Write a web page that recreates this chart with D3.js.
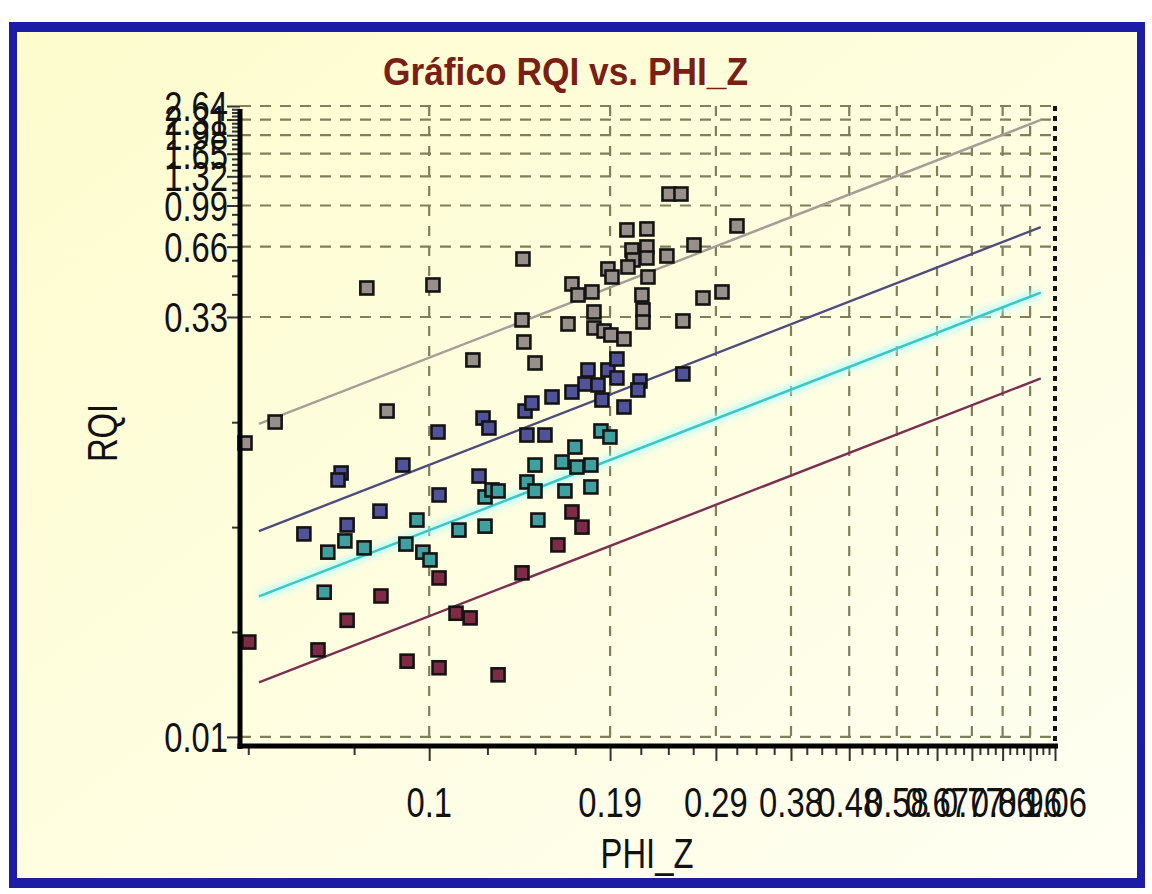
<!DOCTYPE html>
<html>
<head>
<meta charset="utf-8">
<script src="https://cdn.jsdelivr.net/npm/d3@7"></script>
<style>
  html, body { margin: 0; padding: 0; background: #ffffff; }
  svg { display: block; }
</style>
</head>
<body>
<svg id="chart" width="1152" height="894"></svg>
<script>
// ---- data: PHI_Z (x) and RQI (y) per rock-type group ----
const grayPhi = [0.0474, 0.0532, 0.0756, 0.0974, 0.0817, 0.1135, 0.1375, 0.1370, 0.1380, 0.1440,
                 0.1634, 0.1659, 0.1698, 0.1791, 0.1805, 0.1805, 0.1876, 0.1926, 0.2025, 0.1904,
                 0.1934, 0.2048, 0.2211, 0.2211, 0.2088, 0.2096, 0.2211, 0.2056, 0.2220, 0.2169,
                 0.2178, 0.2178, 0.2387, 0.2406, 0.2519, 0.2648, 0.3122, 0.2538, 0.2741, 0.2948];
const grayRqi = [0.0953, 0.1172, 0.4391, 0.4524, 0.1306, 0.2160, 0.5845, 0.3204, 0.2579, 0.2097,
                 0.3080, 0.4569, 0.4099, 0.4223, 0.3467, 0.2961, 0.2874, 0.2764, 0.2657, 0.5297,
                 0.4895, 0.7781, 0.7859, 0.6580, 0.6387, 0.5788, 0.5903, 0.5402, 0.4895, 0.4099,
                 0.3536, 0.3141, 0.6020, 1.109, 1.109, 0.6710, 0.8095, 0.3173, 0.3979, 0.4223];

const navyPhi = [0.0594, 0.0701, 0.0685, 0.0677, 0.0795, 0.0868, 0.0993, 0.0997, 0.1162, 0.1180,
                 0.1207, 0.1386, 0.1423, 0.1396, 0.1496, 0.1537, 0.1659, 0.1744, 0.1764, 0.1833,
                 0.1861, 0.1904, 0.1971, 0.1971, 0.2025, 0.2153, 0.2136, 0.2538];
const navyRqi = [0.0389, 0.0425, 0.0709, 0.0662, 0.0487, 0.0767, 0.1062, 0.0571, 0.0688, 0.1219,
                 0.1105, 0.1306, 0.1413, 0.1031, 0.1031, 0.1500, 0.1575, 0.1705, 0.1957, 0.1688,
                 0.1456, 0.1957, 0.2181, 0.1809, 0.1359, 0.1756, 0.1607, 0.1882];

const tealPhi = [0.0642, 0.0651, 0.0695, 0.0748, 0.0878, 0.0916, 0.0937, 0.0963, 0.1076, 0.1189,
                 0.1189, 0.1221, 0.1250, 0.1396, 0.1440, 0.1440, 0.1456, 0.1597, 0.1615, 0.1678,
                 0.1691, 0.1784, 0.1784, 0.1854, 0.1919];
const tealRqi = [0.0219, 0.0325, 0.0363, 0.0339, 0.0352, 0.0446, 0.0325, 0.0301, 0.0404, 0.0420,
                 0.0560, 0.0600, 0.0594, 0.0649, 0.0767, 0.0594, 0.0446, 0.0790, 0.0594, 0.0916,
                 0.0752, 0.0767, 0.0618, 0.1073, 0.1011];

const maroonPhi = [0.0481, 0.0627, 0.0701, 0.0798, 0.0882, 0.0997, 0.0997, 0.1064, 0.1123, 0.1250,
                   0.1370, 0.1572, 0.1659, 0.1724];
const maroonRqi = [0.0134, 0.0124, 0.0166, 0.0211, 0.0111, 0.0252, 0.0104, 0.0178, 0.0170, 0.0097,
                   0.0265, 0.0349, 0.0483, 0.0416];

// flow zone indicator lines: RQI = FZI * PHI_Z
const fziValues = [2.3, 0.8, 0.42, 0.18];
const fziPhiRange = [0.05, 1.0];

// axis ticks
const xTickValues = [0.096, 0.192, 0.288, 0.384, 0.48, 0.576, 0.672, 0.768, 0.864, 0.96, 1.056];
const xTickLabels = ["0.1", "0.19", "0.29", "0.38", "0.48", "0.58", "0.67", "0.77", "0.86", "0.96", "1.06"];
const xMinorTicks = [0.048, 0.072, 0.12, 0.144, 0.168, 0.216, 0.24, 0.264, 0.312, 0.336, 0.36,
                     0.408, 0.432, 0.456, 0.504, 0.528, 0.552, 0.6, 0.624, 0.648, 0.696, 0.72, 0.744,
                     0.792, 0.816, 0.84, 0.888, 0.912, 0.936, 0.984, 1.008, 1.032];
const yTickValues = [0.00526, 0.33, 0.66, 0.99, 1.32, 1.65, 1.98, 2.31, 2.64];
const yTickLabels = ["0.01", "0.33", "0.66", "0.99", "1.32", "1.65", "1.98", "2.31", "2.64"];
const yMinorTicks = [0.0148, 0.0416, 0.117, 0.4125, 0.495, 0.5775, 0.7425, 0.825, 0.9075,
                     1.0725, 1.155, 1.2375, 1.4025, 1.485, 1.5675, 1.7325, 1.815, 1.8975,
                     2.0625, 2.145, 2.2275, 2.3925, 2.475, 2.5575];

const xDomain = [0.0465, 1.056];
const yDomain = [0.00481, 2.64];

// ---- layout / style ----
const W = 1152, H = 894;
const plot = { left: 240, right: 1055, top: 106, bottom: 746 };
const groupStyles = [
  { fill: "#978f8a", line: "#a69e96" },
  { fill: "#50529a", line: "#4e4c7c" },
  { fill: "#40a0a0", line: "#3cc6c6" },
  { fill: "#7e2c46", line: "#7c2f50" }
];
const font = "'Liberation Sans', Arial, Helvetica, sans-serif";
const labelSize = 42, squeeze = 0.78;

const svg = d3.select("#chart");
const defs = svg.append("defs");

const bg = defs.append("linearGradient").attr("id", "bg")
  .attr("x1", 0).attr("y1", 0).attr("x2", 1).attr("y2", 1);
bg.append("stop").attr("offset", "0%").attr("stop-color", "#fdfccd");
bg.append("stop").attr("offset", "100%").attr("stop-color", "#fffff3");

defs.append("filter").attr("id", "glow")
  .attr("x", "-5%").attr("y", "-20%").attr("width", "110%").attr("height", "140%")
  .append("feGaussianBlur").attr("stdDeviation", 3);

// outer white page, blue frame and cream panel
svg.append("rect").attr("width", W).attr("height", H).attr("fill", "#ffffff");
svg.append("rect").attr("x", 9).attr("y", 22).attr("width", 1136).attr("height", 866).attr("fill", "#1c1ca6");
svg.append("rect").attr("x", 17).attr("y", 32).attr("width", 1120).attr("height", 846).attr("fill", "url(#bg)");

// scales
const x = d3.scaleLog().domain(xDomain).range([plot.left, plot.right]);
const y = d3.scaleLog().domain(yDomain).range([plot.bottom, plot.top]);

// grid lines
const grid = svg.append("g").attr("stroke", "#7f7f5c").attr("stroke-width", 2.2).attr("fill", "none");
grid.selectAll("line.h").data(yTickValues).join("line").attr("class", "h")
  .attr("x1", plot.left).attr("x2", plot.right)
  .attr("y1", d => y(d)).attr("y2", d => y(d))
  .attr("stroke-dasharray", "11 9");
grid.selectAll("line.v").data(xTickValues.slice(0, -1)).join("line").attr("class", "v")
  .attr("x1", d => x(d)).attr("x2", d => x(d))
  .attr("y1", plot.top).attr("y2", plot.bottom)
  .attr("stroke-dasharray", "10 10");
// right border on the last x tick
svg.append("line")
  .attr("x1", x(xTickValues[xTickValues.length - 1])).attr("x2", x(xTickValues[xTickValues.length - 1]))
  .attr("y1", plot.top).attr("y2", plot.bottom)
  .attr("stroke", "#111").attr("stroke-width", 4).attr("stroke-dasharray", "5 5");

// FZI lines
const fziG = svg.append("g").attr("fill", "none");
fziValues.forEach((f, i) => {
  const pts = fziPhiRange.map(p => [x(p), y(f * p)]);
  if (i === 2) {
    fziG.append("line")
      .attr("x1", pts[0][0]).attr("y1", pts[0][1]).attr("x2", pts[1][0]).attr("y2", pts[1][1])
      .attr("stroke", "#a8ffff").attr("stroke-width", 9).attr("opacity", 0.7).attr("filter", "url(#glow)");
  }
  fziG.append("line")
    .attr("x1", pts[0][0]).attr("y1", pts[0][1]).attr("x2", pts[1][0]).attr("y2", pts[1][1])
    .attr("stroke", groupStyles[i].line).attr("stroke-width", 2.4);
});

// points
const groups = [
  { phi: grayPhi, rqi: grayRqi },
  { phi: navyPhi, rqi: navyRqi },
  { phi: tealPhi, rqi: tealRqi },
  { phi: maroonPhi, rqi: maroonRqi }
];
const sq = 13;
groups.forEach((g, i) => {
  const data = g.phi.map((p, k) => ({ p, r: g.rqi[k] }));
  svg.append("g").selectAll("rect").data(data).join("rect")
    .attr("x", d => x(d.p) - sq / 2).attr("y", d => y(d.r) - sq / 2)
    .attr("width", sq).attr("height", sq)
    .attr("fill", groupStyles[i].fill)
    .attr("stroke", "#141414").attr("stroke-width", 2.6);
});

// axes: tick marks through d3 axes, thick black axis lines
function styleTicks(g) {
  g.select(".domain").remove();
  g.selectAll(".tick line").attr("stroke", "#333").attr("stroke-width", 2);
}
svg.append("g").attr("transform", `translate(${plot.left},0)`)
  .call(d3.axisLeft(y).tickValues(yTickValues).tickSize(13).tickFormat(""))
  .call(styleTicks);
svg.append("g").attr("transform", `translate(${plot.left},0)`)
  .call(d3.axisLeft(y).tickValues(yMinorTicks).tickSize(8).tickFormat(""))
  .call(styleTicks);
svg.append("g").attr("transform", `translate(0,${plot.bottom})`)
  .call(d3.axisBottom(x).tickValues(xTickValues).tickSize(15).tickFormat(""))
  .call(styleTicks);
svg.append("g").attr("transform", `translate(0,${plot.bottom})`)
  .call(d3.axisBottom(x).tickValues(xMinorTicks).tickSize(9).tickFormat(""))
  .call(styleTicks);

svg.append("line").attr("x1", plot.left).attr("x2", plot.left)
  .attr("y1", plot.top + 3).attr("y2", plot.bottom + 3)
  .attr("stroke", "#000").attr("stroke-width", 5);
svg.append("line").attr("x1", plot.left - 2.5).attr("x2", plot.right + 3)
  .attr("y1", plot.bottom).attr("y2", plot.bottom)
  .attr("stroke", "#000").attr("stroke-width", 5);

// tick labels
svg.append("g").selectAll("text").data(yTickValues).join("text")
  .attr("transform", d => `translate(${plot.left - 12},${y(d) + 15}) scale(${squeeze},1)`)
  .attr("text-anchor", "end")
  .attr("font-family", font).attr("font-size", labelSize).attr("fill", "#111")
  .text((d, i) => yTickLabels[i]);

svg.append("g").selectAll("text").data(xTickValues).join("text")
  .attr("transform", d => `translate(${x(d)},${plot.bottom + 71}) scale(${squeeze},1)`)
  .attr("text-anchor", "middle")
  .attr("font-family", font).attr("font-size", labelSize).attr("fill", "#111")
  .text((d, i) => xTickLabels[i]);

// axis titles
svg.append("text")
  .attr("transform", `translate(117,433) rotate(-90) scale(${squeeze},1)`)
  .attr("text-anchor", "middle")
  .attr("font-family", font).attr("font-size", labelSize).attr("fill", "#111")
  .text("RQI");
svg.append("text")
  .attr("transform", `translate(647,868) scale(${squeeze},1)`)
  .attr("text-anchor", "middle")
  .attr("font-family", font).attr("font-size", labelSize).attr("fill", "#111")
  .text("PHI_Z");

// title
svg.append("text")
  .attr("x", 383).attr("y", 85)
  .attr("textLength", 365).attr("lengthAdjust", "spacingAndGlyphs")
  .attr("font-family", font).attr("font-size", 38).attr("font-weight", "bold")
  .attr("fill", "#7a1f14")
  .text("Gráfico RQI vs. PHI_Z");
</script>
</body>
</html>
